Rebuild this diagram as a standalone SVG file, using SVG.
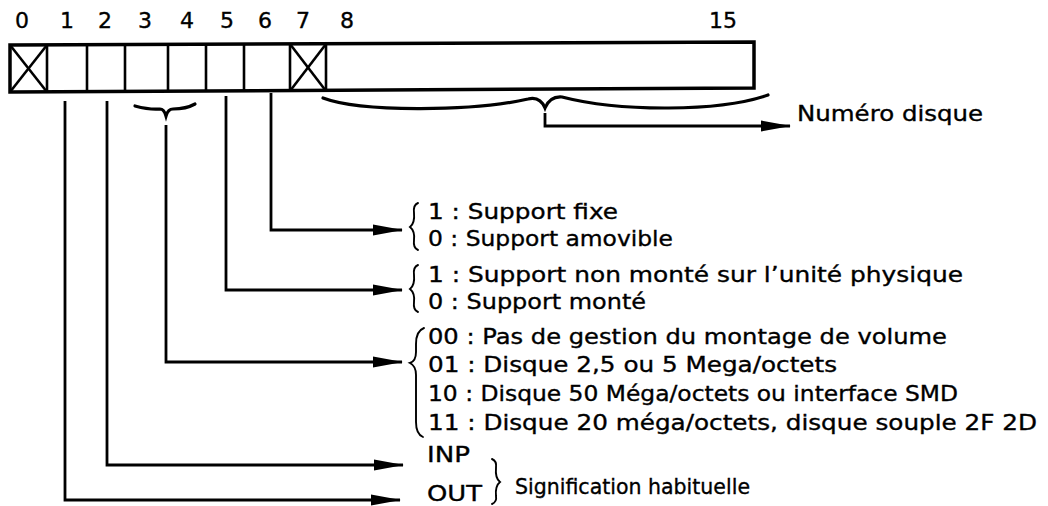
<svg xmlns="http://www.w3.org/2000/svg" width="1048" height="506" viewBox="0 0 1048 506">
<defs>
<style>
.t{font-family:"DejaVu Sans","Liberation Sans",sans-serif;font-size:21px;fill:#000;stroke:#000;stroke-width:0.35}
.n{font-family:"DejaVu Sans","Liberation Sans",sans-serif;font-size:22px;fill:#000;stroke:#000;stroke-width:0.35;text-anchor:middle}
.ln{fill:none;stroke:#000;stroke-width:2.8;stroke-linejoin:miter}
.br{fill:none;stroke:#000;stroke-width:1.9;stroke-linecap:round}
.bb{fill:none;stroke:#000;stroke-width:3.2;stroke-linecap:round}
</style>
<marker id="ah" markerWidth="30" markerHeight="12" refX="29" refY="6" orient="auto" markerUnits="userSpaceOnUse">
<path d="M0,0.5 L30,6 L0,11.5 Z" fill="#000"/>
</marker>
</defs>
<rect width="1048" height="506" fill="#fff"/>

<g id="bit-labels">
<text class="n" x="22" y="28">0</text>
<text class="n" x="67" y="28">1</text>
<text class="n" x="105" y="28">2</text>
<text class="n" x="145" y="28">3</text>
<text class="n" x="187" y="28">4</text>
<text class="n" x="227" y="28">5</text>
<text class="n" x="265" y="28">6</text>
<text class="n" x="303" y="28">7</text>
<text class="n" x="347" y="28">8</text>
<text class="n" x="723" y="28">15</text>
</g>

<g id="register">
<path d="M10,45 L754,42 L754,88 L10,92 Z" fill="none" stroke="#000" stroke-width="3.5"/>
<g stroke="#000" stroke-width="2.6">
<line x1="47" y1="45" x2="47" y2="92"/>
<line x1="87" y1="45" x2="87" y2="92"/>
<line x1="125" y1="45" x2="125" y2="92"/>
<line x1="168" y1="44" x2="168" y2="91"/>
<line x1="206" y1="44" x2="206" y2="91"/>
<line x1="244" y1="44" x2="244" y2="91"/>
<line x1="290" y1="44" x2="290" y2="91"/>
<line x1="326" y1="44" x2="326" y2="91"/>
<line x1="10" y1="45" x2="47" y2="92"/>
<line x1="47" y1="45" x2="10" y2="92"/>
<line x1="290" y1="44" x2="326" y2="91"/>
<line x1="326" y1="44" x2="290" y2="91"/>
</g>
</g>

<g id="braces">
<path class="bb" d="M135,106 Q150,110 160,109 Q164,109 166,116 Q168,109 173,109 Q186,109 195,104"/>
<path class="bb" d="M323,98 C360,112 470,112 528,99 Q540,96 545,108 Q550,96 562,97 C620,112 720,112 768,95"/>
</g>

<g id="connectors">
<path class="ln" d="M271,93 L271,230 L402,230" marker-end="url(#ah)"/>
<path class="ln" d="M226,96 L226,290 L402,290" marker-end="url(#ah)"/>
<path class="ln" d="M166,125 L166,362 L402,362" marker-end="url(#ah)"/>
<path class="ln" d="M107,101 L107,465 L403,465" marker-end="url(#ah)"/>
<path class="ln" d="M65,101 L65,500 L400,500" marker-end="url(#ah)"/>
<path class="ln" d="M545,113 L545,126 L790,126" marker-end="url(#ah)"/>
</g>

<g id="disk-number">
<text class="t" x="797" y="121" font-size="22" textLength="186" lengthAdjust="spacingAndGlyphs">Numéro disque</text>
</g>

<g id="bit6-values">
<path class="br" d="M418,203 Q413,205 414,213 Q415,223 410,227 Q415,231 414,240 Q413,248 418,250"/>
<text class="t" x="428" y="219" textLength="190" lengthAdjust="spacingAndGlyphs">1 : Support fixe</text>
<text class="t" x="428" y="246" textLength="245" lengthAdjust="spacingAndGlyphs">0 : Support amovible</text>
</g>

<g id="bit5-values">
<path class="br" d="M418,265 Q413,267 414,275 Q415,285 410,289 Q415,293 414,302 Q413,310 418,312"/>
<text class="t" x="428" y="282" textLength="535" lengthAdjust="spacingAndGlyphs">1 : Support non monté sur l’unité physique</text>
<text class="t" x="428" y="309" textLength="218" lengthAdjust="spacingAndGlyphs">0 : Support monté</text>
</g>

<g id="bits34-values">
<path class="br" d="M424,328 Q416,331 416,344 L416,352 Q416,361 410,363 Q416,366 416,375 L416,422 Q416,434 423,437"/>
<text class="t" x="428" y="344" textLength="519" lengthAdjust="spacingAndGlyphs">00 : Pas de gestion du montage de volume</text>
<text class="t" x="428" y="372" textLength="409" lengthAdjust="spacingAndGlyphs">01 : Disque 2,5 ou 5 Mega/octets</text>
<text class="t" x="428" y="401" textLength="530" lengthAdjust="spacingAndGlyphs">10 : Disque 50 Méga/octets ou interface SMD</text>
<text class="t" x="428" y="430" textLength="609" lengthAdjust="spacingAndGlyphs">11 : Disque 20 méga/octets, disque souple 2F 2D</text>
</g>

<g id="bits12-values">
<text class="t" x="427" y="462" textLength="43" lengthAdjust="spacingAndGlyphs">INP</text>
<text class="t" x="427" y="501" font-size="20" textLength="55" lengthAdjust="spacingAndGlyphs">OUT</text>
<path class="br" d="M492,459 Q497,461 496,468 Q495,478 500,482 Q495,486 496,496 Q497,502 492,504"/>
<text class="t" x="515" y="494" textLength="235" lengthAdjust="spacingAndGlyphs">Signification habituelle</text>
</g>
</svg>
